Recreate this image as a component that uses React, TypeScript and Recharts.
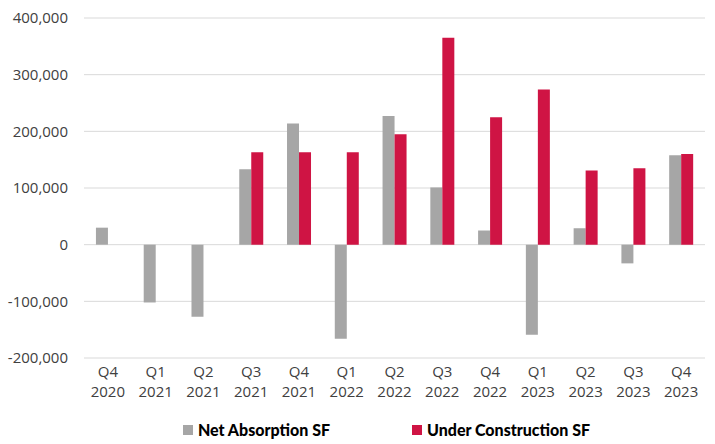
import React from "react";
import { Bar, BarChart, CartesianGrid, Legend, XAxis, YAxis } from "recharts";

const quarters = ["Q4", "Q1", "Q2", "Q3", "Q4", "Q1", "Q2", "Q3", "Q4", "Q1", "Q2", "Q3", "Q4"];
const years = ["2020", "2021", "2021", "2021", "2021", "2022", "2022", "2022", "2022", "2023", "2023", "2023", "2023"];
const netAbsorption = [30000, -102000, -127000, 133000, 214000, -166000, 227000, 101000, 25000, -159000, 29000, -33000, 158000];
const underConstruction = [0, 0, 0, 163000, 163000, 163000, 195000, 365000, 225000, 274000, 131000, 135000, 160000];
const yTicks = [-200000, -100000, 0, 100000, 200000, 300000, 400000];

const GRAY = "#a6a6a6";
const RED = "#cf1444";
const TICK_FONT = "'Open Sans', 'Noto Sans', sans-serif";
const LEGEND_FONT = "Lato, 'Noto Sans', sans-serif";

const data = quarters.map((q, i) => ({
  label: `${q} ${years[i]}`,
  net: netAbsorption[i],
  uc: underConstruction[i] || null,
}));

function QuarterTick({ x, y, payload }: any) {
  const [q, yr] = String(payload.value).split(" ");
  return (
    <text x={x} y={y} textAnchor="middle" fill="#404040" fontSize={15} fontFamily={TICK_FONT}>
      <tspan x={x} dy={11}>{q}</tspan>
      <tspan x={x} dy={20}>{yr}</tspan>
    </text>
  );
}

function ChartLegend() {
  const items = [
    { name: "Net Absorption SF", color: GRAY },
    { name: "Under Construction SF", color: RED },
  ];
  return (
    <div
      style={{
        display: "flex",
        justifyContent: "center",
        gap: 82,
        fontFamily: LEGEND_FONT,
        paddingLeft: 68,
        paddingTop: 10,
      }}
    >
      {items.map((it) => (
        <div key={it.name} style={{ display: "flex", alignItems: "center", gap: 5 }}>
          <span style={{ width: 10, height: 10, background: it.color, display: "inline-block" }} />
          <span style={{ fontWeight: 900, fontSize: 16, color: "#000" }}>{it.name}</span>
        </div>
      ))}
    </div>
  );
}

export default function App() {
  return (
    <div style={{ position: "absolute", left: 0, top: 0, width: 715, height: 444, background: "#fff" }}>
      <BarChart
        width={715}
        height={444}
        data={data}
        margin={{ top: 18, right: 10, left: 0, bottom: 4 }}
        barCategoryGap="25%"
        barGap={0}
      >
        <CartesianGrid horizontal vertical={false} stroke="#d9d9d9" />
        <XAxis
          dataKey="label"
          axisLine={false}
          tickLine={false}
          interval={0}
          height={52}
          tick={<QuarterTick />}
        />
        <YAxis
          domain={[-200000, 400000]}
          ticks={yTicks}
          axisLine={false}
          tickLine={false}
          tickSize={0}
          tickMargin={16}
          width={84}
          tick={{ fill: "#404040", fontSize: 15, fontFamily: TICK_FONT }}
          tickFormatter={(v: number) => v.toLocaleString("en-US")}
        />
        <Legend content={<ChartLegend />} verticalAlign="bottom" height={30} />
        <Bar dataKey="net" name="Net Absorption SF" fill={GRAY} isAnimationActive={false} />
        <Bar dataKey="uc" name="Under Construction SF" fill={RED} isAnimationActive={false} />
      </BarChart>
    </div>
  );
}
